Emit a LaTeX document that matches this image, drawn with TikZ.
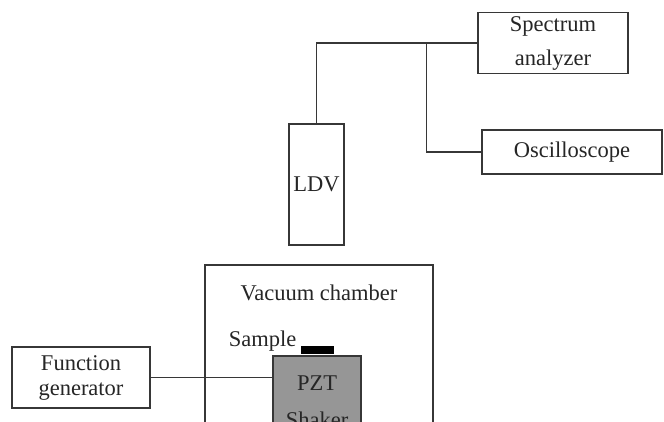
\documentclass[tikz,border=0pt]{standalone}
\usepackage{fontspec}
\setmainfont{Liberation Serif}
\usetikzlibrary{positioning,calc}
\definecolor{wiregray}{RGB}{55,55,55}
\definecolor{shakergray}{RGB}{150,150,150}

\begin{document}
\begin{tikzpicture}[x=1pt,y=-1pt,
    box/.style={draw=wiregray, line width=1.4pt, fill=white, inner sep=0pt, align=center, font=\fontsize{22.5}{25}\selectfont, text=black!85},
    lbl/.style={inner sep=0pt, font=\fontsize{22.5}{25}\selectfont, text=black!85},
    wire/.style={draw=wiregray, line width=1.4pt}]
    \useasboundingbox (0,0) rectangle (664,422);
    \clip (0,0) rectangle (664,422);

    % instruments
    \node[box, minimum width=150, minimum height=61] (spec) at (553,43) {Spectrum\\[9pt]analyzer};
    \node[box, minimum width=180, minimum height=44] (osc) at (572,152) {Oscilloscope};
    \node[box, minimum width=55, minimum height=121] (ldv) at (316.5,184.5) {LDV};
    \node[box, minimum width=138, minimum height=61] (fgen) at (81,377.5) {Function\\generator};

    % chamber with shaker and sample
    \node[box, minimum width=228, minimum height=235] (chamber) at (319,382.5) {};
    \node[lbl, anchor=base] (chamberlbl) at (319,300) {Vacuum chamber};
    \node[lbl, anchor=base] (samplelbl) at (262.5,346) {Sample};
    \node[fill=black, inner sep=0pt, minimum width=33, minimum height=8] (sample) at (317.5,350) {};
    \node[box, fill=shakergray, minimum width=88, minimum height=120] (pzt) at (317,416) {};
    \node[lbl, anchor=base] (pztlbl) at (317,390) {PZT};
    \node[lbl, anchor=base] (shakerlbl) at (317,427) {Shaker};

    % wiring
    \coordinate (tap) at ($(ldv.north |- spec.west)+(110,0)$);
    \draw[wire] (ldv.north) |- (spec.west);
    \draw[wire] (tap) |- (osc.west);
    \draw[wire] (fgen.east) -- (fgen.east -| pzt.west);
\end{tikzpicture}
\end{document}
